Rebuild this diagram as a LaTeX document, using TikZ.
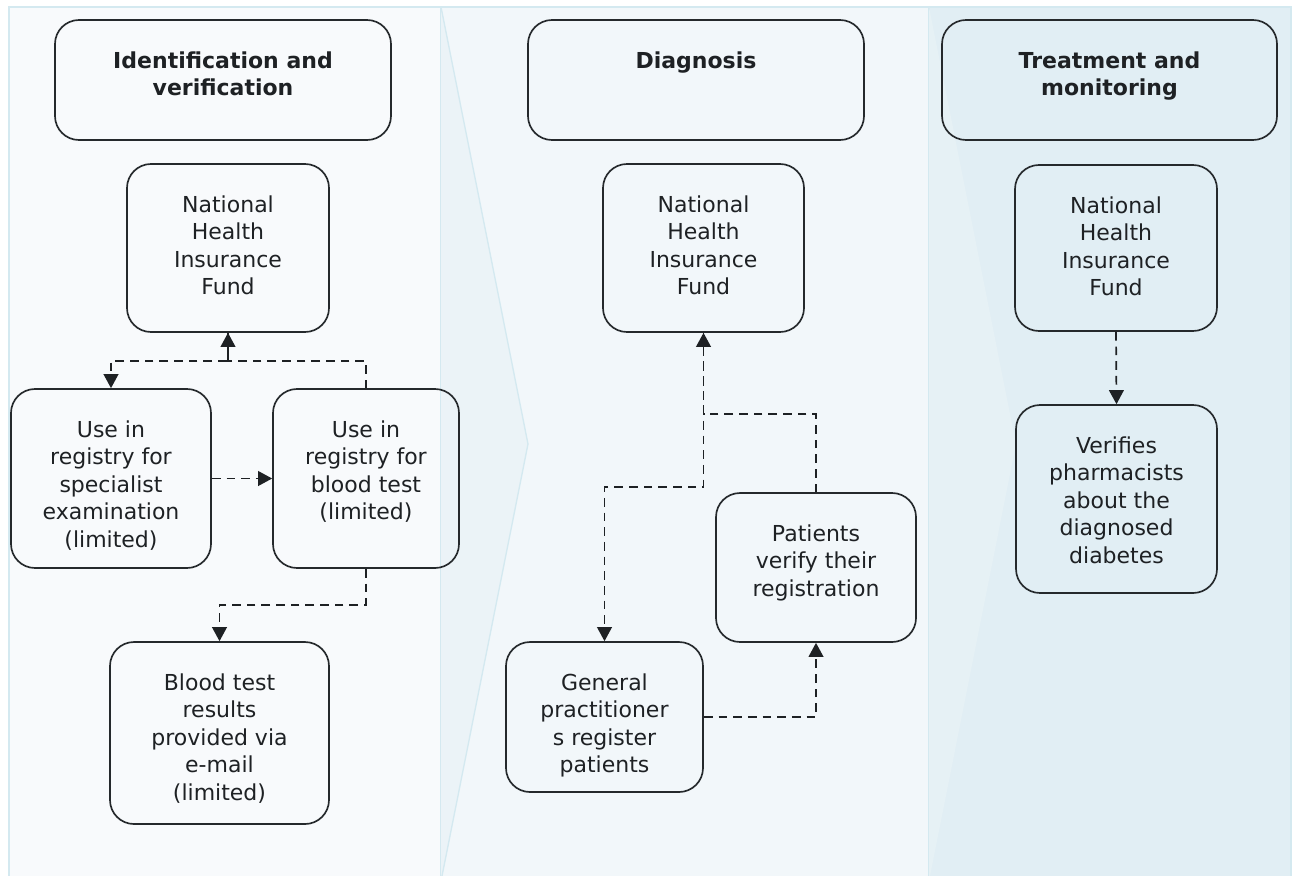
\documentclass[tikz,border=0pt]{standalone}
\usepackage{fontspec}
\setmainfont{DejaVu Sans}
\usetikzlibrary{arrows.meta, fit}

\definecolor{ink}{HTML}{1E2124}
\definecolor{edge}{HTML}{25292C}
\definecolor{rule}{HTML}{D4E9F0}
\definecolor{paneA}{HTML}{F8FAFC}
\definecolor{paneB}{HTML}{F2F7FA}
\definecolor{tipA}{HTML}{EBF3F7}
\definecolor{paneC}{HTML}{E1EEF4}
\definecolor{tipC}{HTML}{E6F1F5}

\begin{document}
\begin{tikzpicture}[x=0.75pt, y=-0.75pt,
    box/.style={draw=edge, line width=1.25pt, rounded corners=18pt, inner sep=0pt},
    txt/.style={anchor=north, align=center, inner sep=0pt, text=ink,
        font=\fontsize{16.5}{20.6}\selectfont},
    head/.style={txt, font=\fontsize{16.5}{20.6}\selectfont\bfseries},
    flow/.style={draw=ink, line width=1.3pt, dash pattern=on 6.5pt off 4.5pt,
        -{Triangle[length=10.5pt,width=11pt]}}
]
    \useasboundingbox (0,0) rectangle (1294,875);
    % Background panels with chevron tips
    \begin{scope}
        \clip (0,0) rectangle (1294,875);
        \filldraw[fill=paneA, draw=rule, line width=1pt] (9,7) rectangle (441,885);
        \filldraw[fill=paneB, draw=rule, line width=1pt] (441,7) rectangle (929,885);
        \filldraw[fill=paneC, draw=rule, line width=1pt] (929,7) rectangle (1291,885);
        \filldraw[fill=tipA, draw=rule, line width=1pt] (441,7) -- (528,444) -- (441,881);
        \fill[tipC] (929,7) -- (1016,444) -- (929,881) -- cycle;
    \end{scope}
    % Boxes: name/left/top/right/bottom
    \foreach \nm/\xa/\ya/\xb/\yb in {
        hdrA/55/20/391/140, hdrB/528/20/864/140, hdrC/942/20/1277/140,
        nhifA/127/164/329/332, spec/11/389/211/568, blood/273/389/459/568,
        results/110/642/329/824, nhifB/603/164/804/332, gp/506/642/703/792,
        pat/716/493/916/642, nhifC/1015/165/1217/331, verif/1016/405/1217/593
    } {
        \node[box, fit={(\xa,\ya) (\xb,\yb)}] (\nm) {};
    }
    % Column headings
    \node[head] (hdrA-t) at ([yshift=-24pt]hdrA.north) {Identification and\\verification};
    \node[head] (hdrB-t) at ([yshift=-24pt]hdrB.north) {Diagnosis};
    \node[head] (hdrC-t) at ([yshift=-24pt]hdrC.north) {Treatment and\\monitoring};
    % Box texts
    \node[txt] (nhifA-t) at ([yshift=-24pt]nhifA.north) {National\\Health\\Insurance\\Fund};
    \node[txt] (spec-t) at ([yshift=-24pt]spec.north) {Use in\\registry for\\specialist\\examination\\(limited)};
    \node[txt] (blood-t) at ([yshift=-24pt]blood.north) {Use in\\registry for\\blood test\\(limited)};
    \node[txt] (results-t) at ([yshift=-24pt]results.north) {Blood test\\results\\provided via\\e-mail\\(limited)};
    \node[txt] (nhifB-t) at ([yshift=-24pt]nhifB.north) {National\\Health\\Insurance\\Fund};
    \node[txt] (gp-t) at ([yshift=-24pt]gp.north) {General\\practitioner\\s register\\patients};
    \node[txt] (pat-t) at ([yshift=-24pt]pat.north) {Patients\\verify their\\registration};
    \node[txt] (nhifC-t) at ([yshift=-24pt]nhifC.north) {National\\Health\\Insurance\\Fund};
    \node[txt] (verif-t) at ([yshift=-24pt]verif.north) {Verifies\\pharmacists\\about the\\diagnosed\\diabetes};
    % Connectors, identification column
    \coordinate (jA) at ([yshift=-21pt]nhifA.south);
    \draw[flow] (nhifA.south) -- (jA) -| (spec.north);
    \draw[flow] (blood.north) |- (jA) -- (nhifA.south);
    \draw[flow] (spec.east) -- (blood.west);
    \draw[flow] (blood.south) -- ++(0,36) -| (results.north);
    % Connectors, diagnosis column
    \coordinate (jB) at ([yshift=-60.75pt]nhifB.south);
    \draw[flow] (pat.north) |- (jB) -- (nhifB.south);
    \draw[flow] (nhifB.south) -- ++(0,154) -| (gp.north);
    \draw[flow] (gp.east) -| (pat.south);
    % Connector, treatment column
    \draw[flow] (nhifC.south) -- (verif.north);
\end{tikzpicture}
\end{document}
